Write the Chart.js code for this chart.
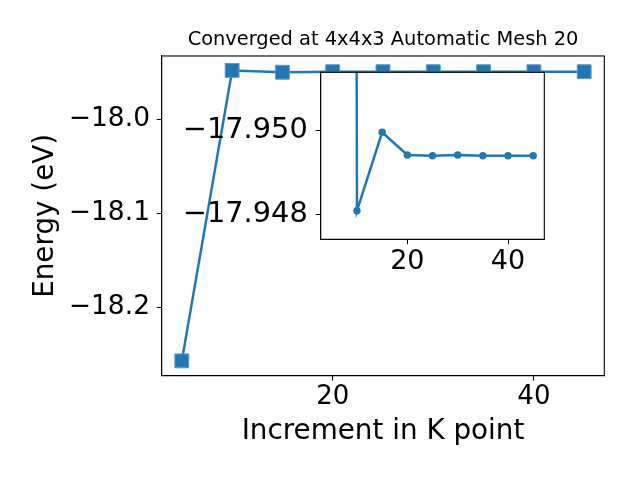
<!DOCTYPE html>
<html lang="en">
<head>
  <meta charset="UTF-8" />
  <title>K point convergence</title>
  <script src="https://cdn.jsdelivr.net/npm/chart.js"></script>
  <style>
    html, body { margin: 0; padding: 0; background: #fff; }
    #wrap { position: relative; width: 640px; height: 480px; }
    #main { position: absolute; left: 0; top: 0; }
    #inset { position: absolute; left: 170px; top: 60px; }
  </style>
</head>
<body>
<div id="wrap">
  <canvas id="main" width="640" height="480"></canvas>
  <canvas id="inset" width="390" height="230"></canvas>
</div>

<script>
// k point increments and total energies (eV)
const kPoints = [5, 10, 15, 20, 25, 30, 35, 40, 45];
const energies = [-18.257, -17.94808, -17.94995, -17.94941, -17.94939, -17.94941, -17.94939, -17.94939, -17.94939];

const mainXTicks = [20, 40];
const mainYTicks = [-18.2, -18.1, -18.0];
const insetXTicks = [20, 40];
const insetYTicks = [-17.950, -17.948];

const titleText = 'Converged at 4x4x3 Automatic Mesh 20';
const xLabel = 'Increment in K point';
const yLabel = 'Energy (eV)';

const blue = '#1f77b4';
Chart.defaults.font.family = "'DejaVu Sans', sans-serif";
Chart.defaults.color = '#000';

function minus(v, d) {
  const s = Math.abs(v).toFixed(d);
  return v < 0 ? '\u2212' + s : s;
}

function points() {
  return kPoints.map((k, i) => ({ x: k, y: energies[i] }));
}

// black box round the plot area, white fill for the inset
const framePlugin = {
  id: 'frame',
  beforeDraw(chart, args, opts) {
    const a = chart.chartArea;
    if (opts.fill) {
      const ctx = chart.ctx;
      ctx.save();
      ctx.fillStyle = '#fff';
      ctx.fillRect(a.left, a.top, a.right - a.left, a.bottom - a.top);
      ctx.restore();
    }
  },
  afterDraw(chart) {
    const a = chart.chartArea;
    const ctx = chart.ctx;
    ctx.save();
    ctx.strokeStyle = '#000';
    ctx.lineWidth = 1.1;
    ctx.strokeRect(a.left, a.top, a.right - a.left, a.bottom - a.top);
    ctx.restore();
  }
};

function axisGrid() {
  return { drawOnChartArea: false, drawTicks: true, tickLength: 5, color: '#000', tickWidth: 1 };
}

// keep the plot box where it is, whatever the label sizes
function fixX(h) {
  return s => { s.height = h; s.paddingLeft = 0; s.paddingRight = 0; };
}
function fixY(w) {
  return s => { s.width = w; s.paddingTop = 0; s.paddingBottom = 0; };
}

new Chart(document.getElementById('main'), {
  type: 'line',
  data: {
    datasets: [{
      data: points(),
      borderColor: blue,
      backgroundColor: blue,
      borderWidth: 2.5,
      pointStyle: 'rect',
      pointRadius: 9.8,
      pointBorderWidth: 1,
      pointBorderColor: '#5a9bcb',
      tension: 0
    }]
  },
  options: {
    responsive: false,
    animation: false,
    layout: { padding: { top: 0, left: 0, right: 35.7, bottom: 0 } },
    plugins: {
      legend: { display: false },
      tooltip: { enabled: false },
      frame: { fill: false },
      title: {
        display: true,
        text: titleText,
        fullSize: false,
        font: { size: 19.4, weight: 'normal' },
        padding: { top: 28.3, bottom: 4.4 }
      }
    },
    scales: {
      x: {
        type: 'linear',
        min: 3, max: 47,
        afterFit: fixX(104.3),
        afterBuildTicks(s) { s.ticks = mainXTicks.map(v => ({ value: v })); },
        ticks: { font: { size: 26 }, padding: 1, maxRotation: 0, callback: v => String(v) },
        grid: axisGrid(),
        border: { display: true, color: '#000', width: 1 },
        title: { display: true, text: xLabel, font: { size: 27.8 }, padding: { top: 0, bottom: 32 } }
      },
      y: {
        type: 'linear',
        min: -18.2728, max: -17.9327,
        afterFit: fixY(161.7),
        afterBuildTicks(s) { s.ticks = mainYTicks.map(v => ({ value: v })); },
        ticks: { font: { size: 26.5 }, padding: 6.7, callback: v => minus(v, 1) },
        grid: axisGrid(),
        border: { display: true, color: '#000', width: 1 },
        title: { display: true, text: yLabel, font: { size: 27.8 }, padding: { top: 29, bottom: 0 } }
      }
    }
  },
  plugins: [framePlugin]
});

new Chart(document.getElementById('inset'), {
  type: 'line',
  data: {
    datasets: [{
      data: points(),
      borderColor: blue,
      backgroundColor: blue,
      borderWidth: 2.5,
      pointStyle: 'circle',
      pointRadius: 3.7,
      pointBorderWidth: 0,
      tension: 0
    }]
  },
  options: {
    responsive: false,
    animation: false,
    layout: { padding: { top: 12.3, left: 0, right: 15.7, bottom: 0 } },
    plugins: {
      legend: { display: false },
      tooltip: { enabled: false },
      frame: { fill: true }
    },
    scales: {
      x: {
        type: 'linear',
        min: 2.8, max: 47.2,
        afterFit: fixX(50.7),
        afterBuildTicks(s) { s.ticks = insetXTicks.map(v => ({ value: v })); },
        ticks: { font: { size: 27 }, padding: 1, maxRotation: 0, callback: v => String(v) },
        grid: axisGrid(),
        border: { display: true, color: '#000', width: 1 }
      },
      y: {
        type: 'linear',
        reverse: true,
        min: -17.95138, max: -17.94740,
        afterFit: fixY(150.7),
        afterBuildTicks(s) { s.ticks = insetYTicks.map(v => ({ value: v })); },
        ticks: { font: { size: 28.8 }, padding: 8, callback: v => minus(v, 3) },
        grid: axisGrid(),
        border: { display: true, color: '#000', width: 1 }
      }
    }
  },
  plugins: [framePlugin]
});
</script>
</body>
</html>
